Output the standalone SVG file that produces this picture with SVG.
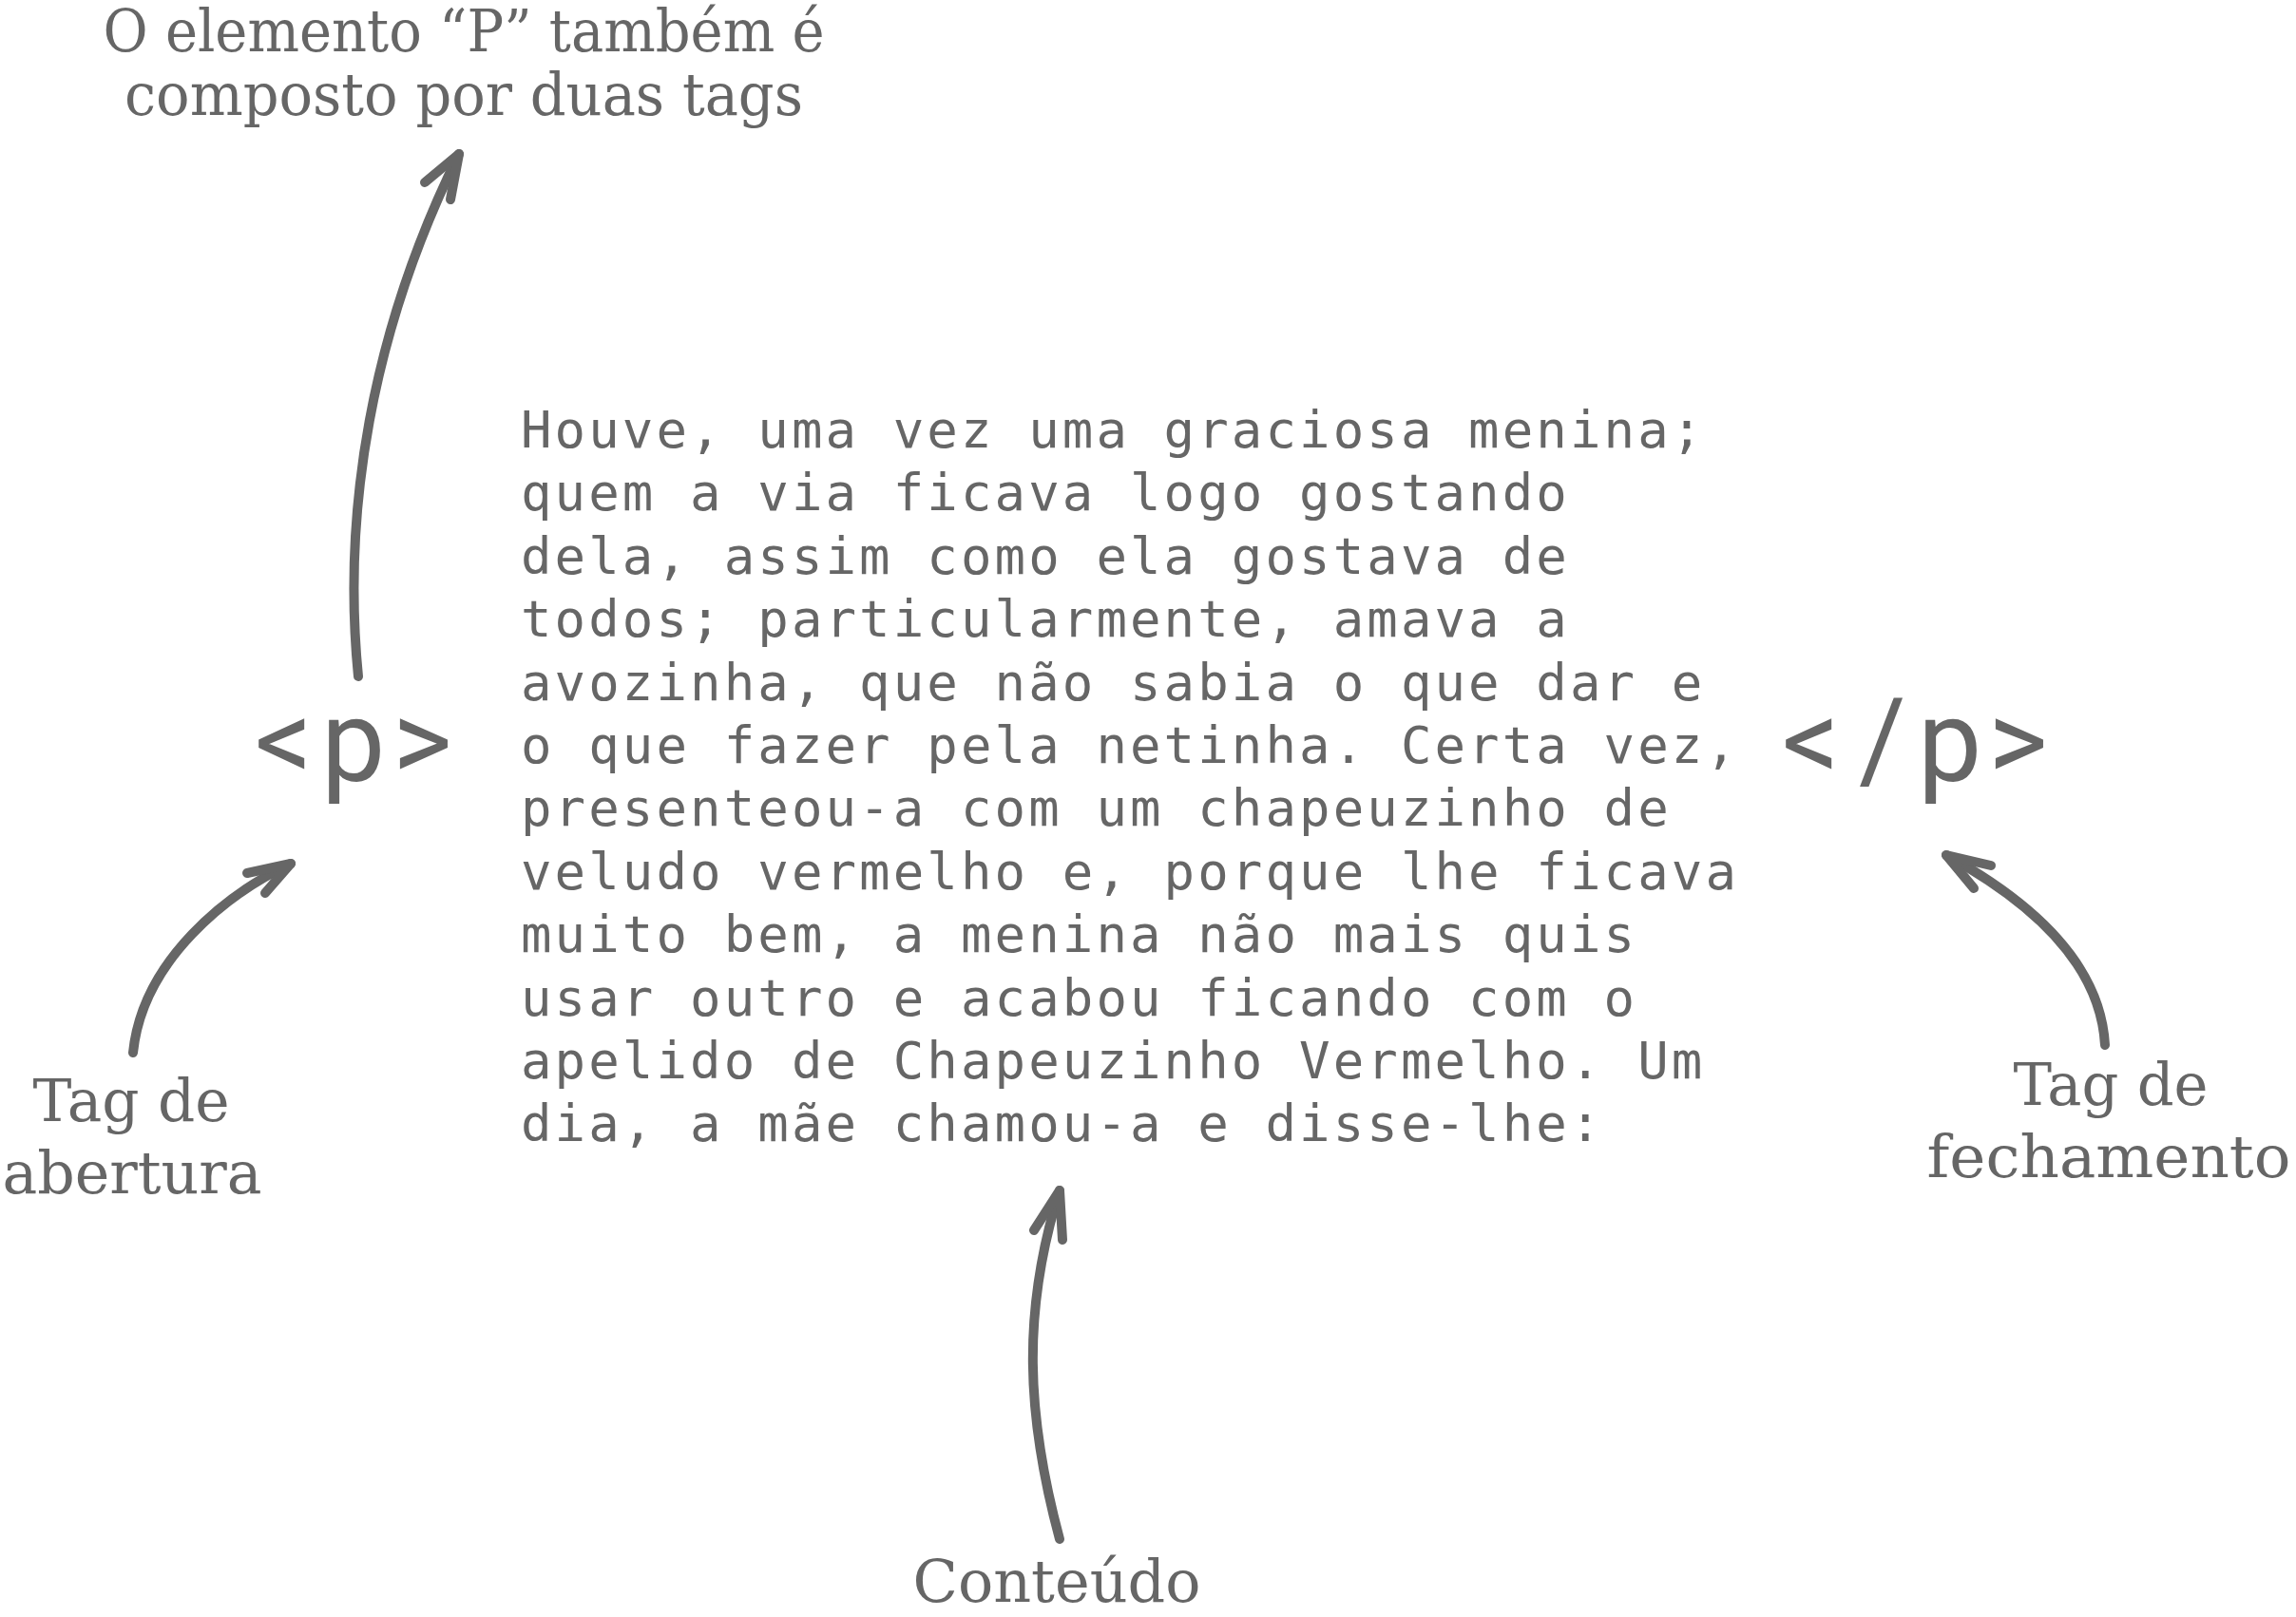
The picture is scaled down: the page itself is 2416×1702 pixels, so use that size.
<svg xmlns="http://www.w3.org/2000/svg" width="2416" height="1702" viewBox="0 0 2416 1702">
<style>
.lbl{font-family:"DejaVu Serif","Liberation Serif",serif;font-size:62px;fill:#666666;text-anchor:middle}
.body{font-family:"DejaVu Sans Mono","Liberation Mono",monospace;font-size:54px;fill:#666666;letter-spacing:3.1px}
.tag{font-family:Roboto,"Noto Sans","DejaVu Sans",sans-serif;font-size:120px;fill:#666666}
.arr{fill:none;stroke:#666666;stroke-width:10;stroke-linecap:round;stroke-linejoin:round}
</style>
<rect width="2416" height="1702" fill="#ffffff"/>
<g id="label-top">
<text class="lbl" x="488" y="54" font-size="57" textLength="759" lengthAdjust="spacingAndGlyphs">O elemento “P” também é</text>
<text class="lbl" x="488" y="121" font-size="57" textLength="714" lengthAdjust="spacingAndGlyphs">composto por duas tags</text>
</g>
<g id="open-tag">
<text class="tag" y="821"><tspan x="268">&lt;</tspan><tspan x="338">p</tspan><tspan x="413">&gt;</tspan></text>
</g>
<g id="close-tag">
<text class="tag" y="821"><tspan x="1875">&lt;</tspan><tspan x="1956">/</tspan><tspan x="2018">p</tspan><tspan x="2092">&gt;</tspan></text>
</g>
<g id="content">
<text class="body">
<tspan x="548" y="471">Houve, uma vez uma graciosa menina;</tspan>
<tspan x="548" y="537.4">quem a via ficava logo gostando</tspan>
<tspan x="548" y="603.8">dela, assim como ela gostava de</tspan>
<tspan x="548" y="670.2">todos; particularmente, amava a</tspan>
<tspan x="548" y="736.6">avozinha, que não sabia o que dar e</tspan>
<tspan x="548" y="803">o que fazer pela netinha. Certa vez,</tspan>
<tspan x="548" y="869.4">presenteou-a com um chapeuzinho de</tspan>
<tspan x="548" y="935.8">veludo vermelho e, porque lhe ficava</tspan>
<tspan x="548" y="1002.2">muito bem, a menina não mais quis</tspan>
<tspan x="548" y="1068.6">usar outro e acabou ficando com o</tspan>
<tspan x="548" y="1135">apelido de Chapeuzinho Vermelho. Um</tspan>
<tspan x="548" y="1201.4">dia, a mãe chamou-a e disse-lhe:</tspan>
</text>
</g>
<g id="label-open">
<text class="lbl" x="138" y="1180" textLength="207" lengthAdjust="spacingAndGlyphs">Tag de</text>
<text class="lbl" x="139" y="1256" textLength="273" lengthAdjust="spacingAndGlyphs">abertura</text>
</g>
<g id="label-close">
<text class="lbl" x="2221" y="1163" textLength="205" lengthAdjust="spacingAndGlyphs">Tag de</text>
<text class="lbl" x="2219" y="1239" textLength="383" lengthAdjust="spacingAndGlyphs">fechamento</text>
</g>
<g id="label-content">
<text class="lbl" x="1112" y="1686" textLength="303" lengthAdjust="spacingAndGlyphs">Conteúdo</text>
</g>
<g id="connectors">
<path class="arr" d="M377 712 C360 540 390 350 483 162"/>
<path class="arr" d="M447 192 L483 162 L474 210"/>
<path class="arr" d="M140 1108 C150 1010 240 940 306 909"/>
<path class="arr" d="M260 919 L306 909 L279 940"/>
<path class="arr" d="M2215 1100 C2210 1010 2130 945 2048 900"/>
<path class="arr" d="M2095 911 L2048 900 L2077 935"/>
<path class="arr" d="M1115 1620 C1080 1490 1075 1380 1115 1253"/>
<path class="arr" d="M1088 1295 L1115 1253 L1118 1305"/>
</g>
</svg>
